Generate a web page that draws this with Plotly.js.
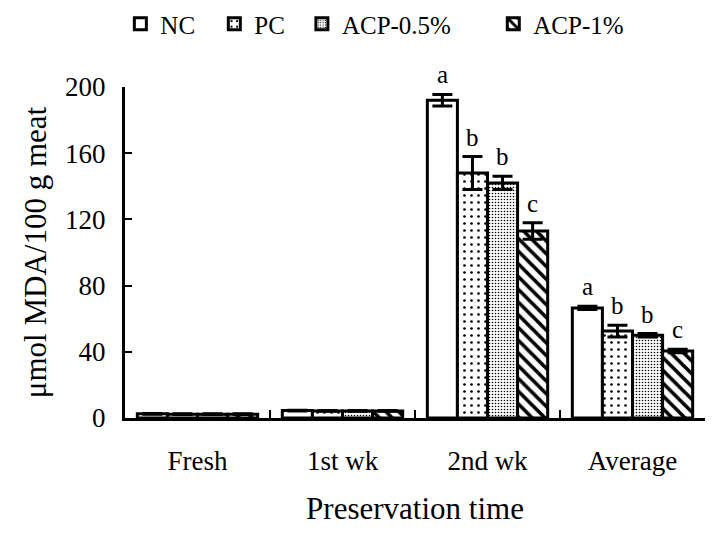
<!DOCTYPE html>
<html>
<head>
<meta charset="utf-8">
<script src="https://cdn.plot.ly/plotly-3.0.1.min.js"></script>
<style>html,body{margin:0;padding:0;background:#fff;}#chart{width:717px;height:535px;}</style>
</head>
<body>
<div id="chart"></div>
<script>
const categories = ['Fresh', '1st wk', '2nd wk', 'Average'];
const seriesNames = ['NC', 'PC', 'ACP-0.5%', 'ACP-1%'];
const ncValues = [2.5, 4.5, 192, 66.5];
const pcValues = [2.3, 4.3, 148, 52.5];
const acp05Values = [2.3, 4.3, 142, 50];
const acp1Values = [2.3, 4.3, 113, 40.5];
const ncErr = [0.2, 0.2, 3.5, 1];
const pcErr = [0.2, 0.2, 10, 3.5];
const acp05Err = [0.2, 0.2, 4, 1];
const acp1Err = [0.2, 0.2, 5, 1];
const ncLetters = ['', '', 'a', 'a'];
const pcLetters = ['', '', 'b', 'b'];
const acp05Letters = ['', '', 'b', 'b'];
const acp1Letters = ['', '', 'c', 'c'];

const values = [ncValues, pcValues, acp05Values, acp1Values];
const errs = [ncErr, pcErr, acp05Err, acp1Err];
const letters = [ncLetters, pcLetters, acp05Letters, acp1Letters];
const patterns = [
  {shape: ''},
  {shape: '.', fgcolor: '#000', bgcolor: '#fff', size: 7, solidity: 0.12, fillmode: 'replace'},
  {shape: '.', fgcolor: '#000', bgcolor: '#fff', size: 3, solidity: 0.22, fillmode: 'replace'},
  {shape: '\\', fgcolor: '#000', bgcolor: '#fff', size: 9, solidity: 0.4, fillmode: 'replace'}
];
const legendIds = ['legend', 'legend2', 'legend3', 'legend4'];
const legendX = [-0.008, 0.154, 0.305, 0.635];

const FONT = 'Liberation Serif, Times New Roman, serif';
const bargap = 0.17;

const traces = seriesNames.map((name, i) => ({
  type: 'bar',
  name: name,
  x: categories,
  y: values[i],
  legend: legendIds[i],
  marker: {color: '#fff', line: {color: '#000', width: 3}, pattern: patterns[i]},
  error_y: {type: 'data', array: errs[i], visible: true, color: '#000', thickness: 3, width: 10}
}));

const n = seriesNames.length;
const bw = (1 - bargap) / n;
const annotations = [];
letters.forEach((arr, i) => {
  arr.forEach((t, j) => {
    if (!t) return;
    annotations.push({
      xref: 'x', yref: 'y',
      x: j - (1 - bargap) / 2 + bw * (i + 0.5),
      y: values[i][j] + errs[i][j],
      text: t, showarrow: false, yanchor: 'bottom', yshift: 4,
      font: {family: FONT, size: 25, color: '#000'}
    });
  });
});

const layout = {
  width: 717, height: 535,
  margin: {l: 125, r: 12, t: 87, b: 117, autoexpand: false},
  paper_bgcolor: '#fff', plot_bgcolor: '#fff',
  font: {family: FONT, size: 25, color: '#000'},
  barmode: 'group', bargap: bargap, bargroupgap: 0,
  showlegend: true,
  xaxis: {
    type: 'category',
    showline: true, linecolor: '#000', linewidth: 3,
    ticks: 'inside', tickson: 'boundaries', ticklen: 8, tickwidth: 2, tickcolor: '#000',
    showgrid: false, zeroline: false,
    ticklabelstandoff: 17,
    tickfont: {family: FONT, size: 27},
    title: {text: 'Preservation time', font: {family: FONT, size: 31}, standoff: 22}
  },
  yaxis: {
    range: [0, 200], dtick: 40, tick0: 0,
    showline: true, linecolor: '#000', linewidth: 3,
    ticks: 'inside', ticklen: 7, tickwidth: 2, tickcolor: '#000',
    showgrid: false, zeroline: false,
    ticklabelstandoff: 11,
    tickfont: {family: FONT, size: 27},
    title: {text: 'μmol MDA/100 g meat', font: {family: FONT, size: 31}, standoff: 10}
  },
  annotations: annotations
};
legendIds.forEach((id, i) => {
  layout[id] = {
    x: legendX[i], xanchor: 'left', y: 1.19, yanchor: 'middle',
    orientation: 'h', bgcolor: 'rgba(0,0,0,0)',
    font: {family: FONT, size: 25, color: '#000'}
  };
});

Plotly.newPlot('chart', traces, layout, {staticPlot: true});
</script>
</body>
</html>
